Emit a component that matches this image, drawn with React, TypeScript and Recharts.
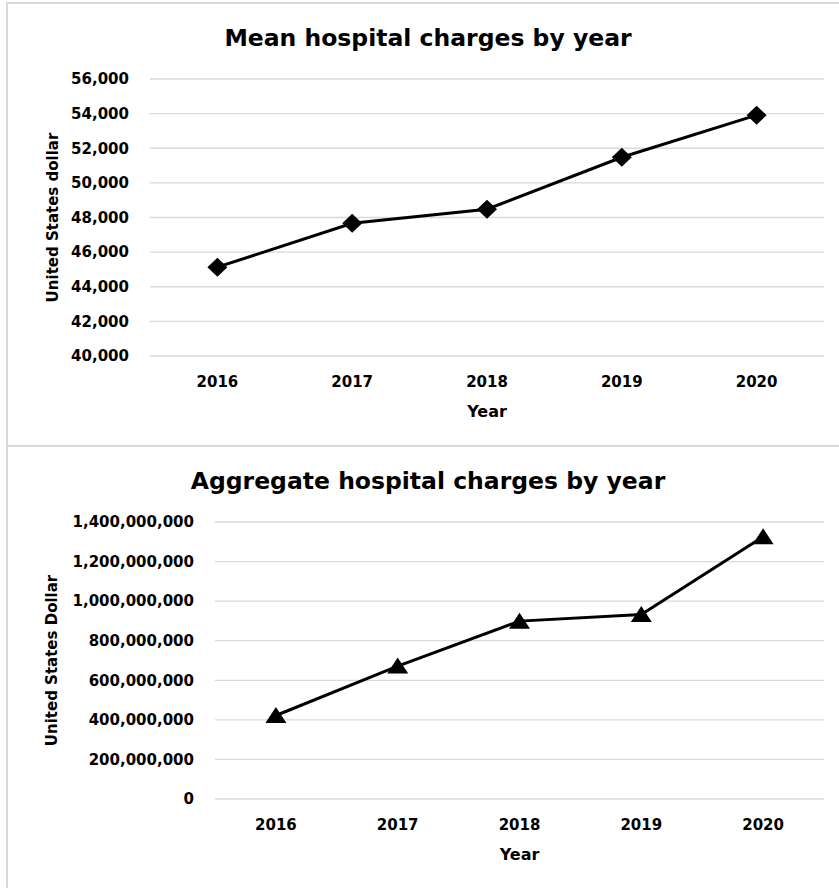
import { CartesianGrid, Line, LineChart, XAxis, YAxis } from "recharts";

const years = ["2016", "2017", "2018", "2019", "2020"];
const meanCharges = [45130, 47670, 48480, 51480, 53910];
const aggregateCharges = [422000000, 672000000, 899000000, 932000000, 1326000000];
const meanTicks = [40000, 42000, 44000, 46000, 48000, 50000, 52000, 54000, 56000];
const aggregateTicks = [
  0, 200000000, 400000000, 600000000, 800000000, 1000000000, 1200000000, 1400000000,
];

const meanData = years.map((year, i) => ({ year, value: meanCharges[i] }));
const aggregateData = years.map((year, i) => ({ year, value: aggregateCharges[i] }));

const FONT = "'DejaVu Sans', sans-serif";
const GRID = "#d9d9d9";
const tickStyle = { fill: "#000", fontFamily: FONT, fontWeight: 700, fontSize: 15 };
const labelStyle = { fill: "#000", fontFamily: FONT, fontWeight: 700, fontSize: 16 };

function formatNumber(value: number) {
  return value.toLocaleString("en-US");
}

function DiamondDot(props: any) {
  const { cx, cy, index } = props;
  if (cx == null || cy == null) return <g key={index} />;
  return (
    <polygon
      key={index}
      points={`${cx},${cy - 9.5} ${cx + 10},${cy} ${cx},${cy + 9.5} ${cx - 10},${cy}`}
      fill="#000"
    />
  );
}

function TriangleDot(props: any) {
  const { cx, cy, index } = props;
  if (cx == null || cy == null) return <g key={index} />;
  return (
    <polygon
      key={index}
      points={`${cx},${cy - 8.5} ${cx + 10.5},${cy + 7.5} ${cx - 10.5},${cy + 7.5}`}
      fill="#000"
    />
  );
}

type PanelProps = {
  title: string;
  titleBaseline: number;
  yLabel: string;
  data: { year: string; value: number }[];
  ticks: number[];
  domain: [number, number];
  height: number;
  marginTop: number;
  yWidth: number;
  yLabelOffset: number;
  dot: (props: any) => any;
};

function Panel({
  title,
  titleBaseline,
  yLabel,
  data,
  ticks,
  domain,
  height,
  marginTop,
  yWidth,
  yLabelOffset,
  dot,
}: PanelProps) {
  // half a category band on each side, like Excel's "between tick marks"
  const plotWidth = 839 - 15 - yWidth;
  const edge = plotWidth / data.length / 2;

  return (
    <div style={{ position: "relative", width: 839, height }}>
      <LineChart
        width={839}
        height={height}
        data={data}
        margin={{ top: marginTop, right: 15, left: 0, bottom: 0 }}
      >
        <CartesianGrid vertical={false} stroke={GRID} strokeWidth={1.3} />
        <XAxis
          dataKey="year"
          axisLine={false}
          tickLine={false}
          tickMargin={14}
          height={89}
          padding={{ left: edge, right: edge }}
          tick={tickStyle}
          label={{
            value: "Year",
            position: "insideBottom",
            offset: 28,
            style: labelStyle,
          }}
        />
        <YAxis
          domain={domain}
          ticks={ticks}
          interval={0}
          axisLine={false}
          tickLine={false}
          tickMargin={15}
          width={yWidth}
          tick={tickStyle}
          tickFormatter={formatNumber}
          label={{
            value: yLabel,
            angle: -90,
            position: "insideLeft",
            offset: yLabelOffset,
            style: { ...labelStyle, fontSize: 15, textAnchor: "middle" },
          }}
        />
        <Line
          dataKey="value"
          stroke="#000"
          strokeWidth={3}
          dot={dot}
          activeDot={false}
          isAnimationActive={false}
        />
      </LineChart>
      <svg
        width={839}
        height={height}
        style={{ position: "absolute", left: 0, top: 0, pointerEvents: "none" }}
      >
        <text
          x={428}
          y={titleBaseline}
          textAnchor="middle"
          fontFamily={FONT}
          fontWeight={700}
          fontSize={23.5}
          fill="#000"
        >
          {title}
        </text>
      </svg>
    </div>
  );
}

export default function App() {
  return (
    <div
      style={{
        position: "absolute",
        left: 0,
        top: 0,
        width: 839,
        height: 888,
        background: "#fff",
        overflow: "hidden",
      }}
    >
      <Panel
        title="Mean hospital charges by year"
        titleBaseline={45.5}
        yLabel="United States dollar"
        data={meanData}
        ticks={meanTicks}
        domain={[40000, 56000]}
        height={445}
        marginTop={79}
        yWidth={150}
        yLabelOffset={53}
        dot={DiamondDot}
      />
      <Panel
        title="Aggregate hospital charges by year"
        titleBaseline={44}
        yLabel="United States Dollar"
        data={aggregateData}
        ticks={aggregateTicks}
        domain={[0, 1400000000]}
        height={443}
        marginTop={77}
        yWidth={215}
        yLabelOffset={52}
        dot={TriangleDot}
      />
      <div
        style={{
          position: "absolute",
          left: 7,
          top: 2,
          width: 832,
          height: 2,
          background: GRID,
        }}
      />
      <div
        style={{
          position: "absolute",
          left: 7,
          top: 444.5,
          width: 832,
          height: 2,
          background: GRID,
        }}
      />
      <div
        style={{
          position: "absolute",
          left: 6,
          top: 2,
          width: 2,
          height: 886,
          background: GRID,
        }}
      />
    </div>
  );
}
